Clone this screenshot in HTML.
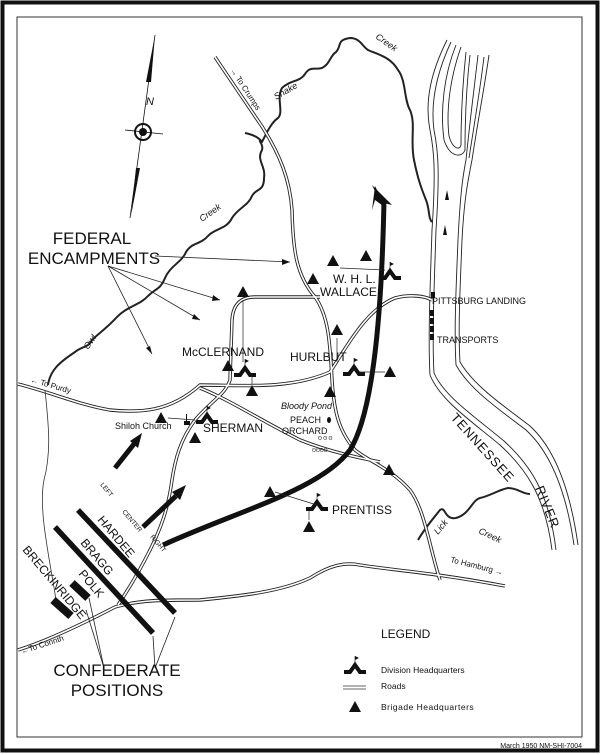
<!DOCTYPE html>
<html><head><meta charset="utf-8"><style>
html,body{margin:0;padding:0;background:#fff}
svg{display:block}
text{font-family:"Liberation Sans",sans-serif;fill:#111}
</style></head><body>
<svg width="600" height="755" viewBox="0 0 600 755" xmlns="http://www.w3.org/2000/svg">
<rect x="0" y="0" width="600" height="755" fill="#fff"/>
<rect x="2.5" y="2.5" width="595" height="748" fill="none" stroke="#111" stroke-width="4"/>
<rect x="17" y="17" width="565" height="720" fill="none" stroke="#333" stroke-width="1"/>
<text x="582" y="748" font-size="7" text-anchor="end">March 1950   NM-SHI-7004</text>

<!-- compass -->
<polygon points="155,35 151,82 146,82" fill="#111"/>
<line x1="155" y1="35" x2="130" y2="218" stroke="#111" stroke-width="0.8"/>
<polygon points="140,168 136,168 131,216" fill="#111"/>
<circle cx="143" cy="132" r="8" fill="none" stroke="#111" stroke-width="2"/>
<circle cx="143" cy="132" r="4" fill="#111"/>
<line x1="125" y1="130" x2="163" y2="134" stroke="#111" stroke-width="0.8"/>
<text x="146" y="105" font-size="11" font-style="italic">N</text>

<!-- creeks -->
<g fill="none" stroke="#222" stroke-width="2" stroke-linejoin="round">
<path d="M48,385 C50,370 60,362 75,352 C82,346 88,348 92,340 C100,332 105,330 118,316 C128,306 140,305 148,296 C156,288 160,290 165,278 C170,266 182,262 186,252 C192,242 200,245 208,236 C215,228 226,230 232,218 C238,208 248,206 252,196 C256,188 264,192 264,178 C266,166 256,160 262,150 C264,144 256,138 262,142 C258,136 250,134 245,133"/>
<path d="M262,142 C268,130 272,122 278,118 C284,112 276,98 282,88 C290,80 300,82 305,74 C310,66 315,70 322,68 C330,64 330,56 336,52 C342,46 336,40 350,38 C360,38 362,46 368,50 C376,54 390,56 398,70 C406,80 404,100 410,110 C416,124 410,140 414,160 C418,180 422,190 426,200 C430,210 428,218 432,222"/>
<path d="M418,540 C425,528 432,520 440,510 C446,506 444,520 456,518 C470,514 472,500 480,498 C490,496 498,490 508,488 C518,488 522,494 530,494"/>
</g>
<text x="88" y="350" font-size="9" font-style="italic" transform="rotate(-55 88 350)">Owl</text>
<text x="202" y="222" font-size="9" font-style="italic" transform="rotate(-35 202 222)">Creek</text>
<text x="276" y="100" font-size="9" font-style="italic" transform="rotate(-30 276 100)">Snake</text>
<text x="375" y="38" font-size="9" font-style="italic" transform="rotate(35 375 38)">Creek</text>
<text x="438" y="535" font-size="9" font-style="italic" transform="rotate(-50 438 535)">Lick</text>
<text x="478" y="533" font-size="9" font-style="italic" transform="rotate(25 478 533)">Creek</text>

<!-- river -->
<g fill="none" stroke="#222" stroke-width="0.9">
<path d="M447,40 C432,70 424,100 430,130 C434,150 436,170 432,230 C430,290 428,340 430,375 C440,400 470,420 500,445 C525,468 545,495 552,550"/>
<path d="M451,42 C438,70 430,100 434,130 C438,150 440,170 436,230 C434,290 432,340 434,373 C444,396 474,416 504,441 C529,464 549,491 556,550"/>
<path d="M456,45 C444,75 440,110 444,140 C450,158 462,158 465,150 C465,120 466,90 470,55"/>
<path d="M461,47 C450,78 446,110 449,136 C453,150 460,150 461,145 C461,120 462,90 466,52"/>
<path d="M478,55 C474,90 470,120 466,160 C462,180 460,200 458,240 C456,290 454,330 456,365 C470,390 500,410 526,430 C550,452 566,490 574,545"/>
<path d="M489,55 C484,90 478,120 472,160 C468,180 464,200 462,240 C460,290 458,330 460,362 C474,386 504,406 530,426 C554,448 570,488 578,545"/>
<path d="M484,57 C480,90 475,120 469,158"/>
</g>
<polygon points="447,190 445,200 449,200" fill="#111"/>
<polygon points="445,225 443,235 447,235" fill="#111"/>
<text x="450" y="418" font-size="13" transform="rotate(48 450 418)" letter-spacing="1">TENNESSEE</text>
<text x="535" y="488" font-size="13" transform="rotate(68 535 488)" letter-spacing="1">RIVER</text>

<!-- roads -->
<g fill="none" stroke="#222" stroke-width="3.4" stroke-linejoin="round">
<path id="r1" d="M215,57 L263,128 C280,155 290,180 292,210 C293,250 296,275 315,297 C328,315 330,340 332,380 C334,410 338,430 355,450 C370,462 390,468 410,490 C425,510 430,550 440,580"/>
<path id="r2" d="M320,297 L255,297 C240,297 233,305 232,320 L230,380 C225,395 212,400 195,420 C180,440 175,460 172,480 C168,510 160,530 150,550 C140,570 128,590 118,605"/>
<path id="r3" d="M18,384 C50,392 80,405 110,410 C140,413 170,412 200,385 C240,385 290,390 330,372 C345,350 365,310 395,298 C410,294 425,296 432,300"/>
<path id="r4" d="M200,388 C230,400 260,420 300,440 C330,452 360,458 380,462"/>
<path id="r5" d="M18,650 C50,640 90,620 115,607 C140,600 160,600 200,600 C240,596 280,592 310,578 C330,565 345,562 360,565 C390,570 430,572 505,586"/>
</g>
<g fill="none" stroke="#fff" stroke-width="1.6" stroke-linejoin="round">
<use href="#r1"/><use href="#r2"/><use href="#r3"/><use href="#r4"/><use href="#r5"/>
</g>
<path d="M45,390 C48,420 52,450 44,480 C38,510 50,560 56,600" fill="none" stroke="#333" stroke-width="0.8"/>
<text x="230" y="70" font-size="8" transform="rotate(57 230 70)">→ To Crumps</text>
<text x="30" y="382" font-size="8" transform="rotate(16 30 382)">← To       Purdy</text>
<text x="22" y="654" font-size="8" transform="rotate(-18 22 654)">←To Corinth</text>
<text x="450" y="562" font-size="8" transform="rotate(14 450 562)">To Hamburg →</text>

<!-- encampment arrows -->
<g stroke="#222" stroke-width="0.8" fill="none">
<line x1="155" y1="256" x2="290" y2="262"/>
<line x1="108" y1="266" x2="220" y2="300"/>
<line x1="108" y1="266" x2="200" y2="320"/>
<line x1="108" y1="266" x2="152" y2="354"/>
<line x1="86" y1="610" x2="104" y2="668"/><line x1="89" y1="598" x2="104" y2="668"/>
<line x1="153" y1="636" x2="155" y2="668"/><line x1="175" y1="617" x2="155" y2="668"/>
</g>
<g fill="#111">
<polygon points="290,262 282,259 282,265"/><polygon points="220,300 213,295 212,301"/>
<polygon points="200,320 194,314 192,319"/><polygon points="152,354 150,346 146,348"/>
</g>

<!-- big arrows -->
<path d="M163,545 C240,510 320,490 350,450 C375,410 382,300 384,200" fill="none" stroke="#111" stroke-width="5"/>
<polygon points="375,186 386,208 375,200 372,210" fill="#111"/>
<polygon points="372,185 392,205 380,202" fill="#111"/>
<line x1="115" y1="468" x2="134" y2="444" stroke="#111" stroke-width="5"/>
<polygon points="142,433 130,441 138,448" fill="#111"/>
<line x1="143" y1="527" x2="176" y2="496" stroke="#111" stroke-width="5"/>
<polygon points="186,485 172,492 180,500" fill="#111"/>

<!-- confederate bars -->
<g stroke="#111" stroke-width="5.5">
<line x1="78" y1="510" x2="175" y2="613"/>
<line x1="55" y1="527" x2="153" y2="633"/>
<line x1="72" y1="583" x2="88" y2="598" stroke-width="8"/>
<line x1="53" y1="600" x2="71" y2="616" stroke-width="8"/>
</g>
<g font-size="12">
<text x="97" y="520" transform="rotate(50 97 520)">HARDEE</text>
<text x="80" y="543" transform="rotate(50 80 543)">BRAGG</text>
<text x="78" y="574" transform="rotate(50 78 574)">POLK</text>
<text x="22" y="550" transform="rotate(50 22 550)">BRECKINRIDGE</text>
</g>
<g font-size="6.5">
<text x="100" y="485" transform="rotate(50 100 485)">LEFT</text>
<text x="122" y="512" transform="rotate(50 122 512)">CENTER</text>
<text x="150" y="537" transform="rotate(50 150 537)">RIGHT</text>
</g>
<text x="117" y="676" font-size="17" text-anchor="middle">CONFEDERATE</text>
<text x="117" y="696" font-size="17" text-anchor="middle">POSITIONS</text>

<text x="92" y="244" font-size="17" text-anchor="middle">FEDERAL</text>
<text x="94" y="264" font-size="17" text-anchor="middle">ENCAMPMENTS</text>

<!-- unit labels -->
<g font-size="12">
<text x="333" y="283">W. H. L.</text>
<text x="320" y="296">WALLACE</text>
<text x="182" y="356">McCLERNAND</text>
<text x="290" y="361">HURLBUT</text>
<text x="203" y="432">SHERMAN</text>
<text x="332" y="514">PRENTISS</text>
</g>
<text x="432" y="304" font-size="9">PITTSBURG  LANDING</text>
<text x="437" y="343" font-size="9">TRANSPORTS</text>
<text x="281" y="409" font-size="9" font-style="italic">Bloody Pond</text>
<text x="290" y="423" font-size="9">PEACH</text>
<text x="282" y="434" font-size="9">ORCHARD</text>
<text x="115" y="429" font-size="9">Shiloh Church</text>

<!-- HQ symbols -->
<defs>
<g id="div"><polyline points="-11,4 -5,4 0,-3 5,4 11,4" fill="none" stroke="#111" stroke-width="4" stroke-linejoin="miter"/><line x1="0" y1="-4" x2="0" y2="-12" stroke="#111" stroke-width="0.6"/><polygon points="0,-12 4,-10 0,-8" fill="#111"/></g>
<polygon id="tri" points="0,-6 6,5 -6,5" fill="#111"/>
</defs>
<use href="#div" x="390" y="274"/><use href="#div" x="245" y="371"/><use href="#div" x="354" y="370"/>
<use href="#div" x="207" y="418"/><use href="#div" x="317" y="505"/>
<use href="#tri" x="333" y="261"/><use href="#tri" x="366" y="256"/><use href="#tri" x="313" y="279"/>
<use href="#tri" x="243" y="292"/><use href="#tri" x="337" y="330"/><use href="#tri" x="228" y="366"/>
<use href="#tri" x="252" y="391"/><use href="#tri" x="330" y="392"/><use href="#tri" x="390" y="372"/>
<use href="#tri" x="161" y="418"/><use href="#tri" x="195" y="438"/><use href="#tri" x="389" y="470"/>
<use href="#tri" x="270" y="492"/><use href="#tri" x="309" y="527"/>
<g stroke="#222" stroke-width="0.7">
<line x1="243" y1="300" x2="243" y2="362"/><line x1="337" y1="338" x2="337" y2="362"/>
<line x1="360" y1="372" x2="385" y2="372"/><line x1="340" y1="268" x2="385" y2="270"/>
<line x1="317" y1="505" x2="275" y2="492"/><line x1="309" y1="510" x2="309" y2="520"/>
<line x1="195" y1="420" x2="168" y2="418"/><line x1="252" y1="375" x2="252" y2="384"/>
</g>
<g fill="#111">
<rect x="431" y="292" width="4" height="6"/><rect x="430" y="310" width="4" height="6"/>
<rect x="430" y="318" width="4" height="6"/><rect x="430" y="326" width="4" height="6"/><rect x="430" y="334" width="4" height="6"/>
<rect x="184" y="421" width="6" height="4"/><rect x="186" y="414" width="1" height="7"/>
<ellipse cx="329" cy="420" rx="2" ry="3"/>
</g>
<g font-size="5">
<text x="318" y="440">ʘ ʘ ʘ</text><text x="312" y="452">ʘʘʘʘ</text>
</g>

<!-- legend -->
<text x="381" y="638" font-size="12">LEGEND</text>
<use href="#div" x="355" y="668"/>
<text x="381" y="673" font-size="8.5">Division Headquarters</text>
<line x1="343" y1="686" x2="366" y2="686" stroke="#333" stroke-width="0.7"/>
<line x1="343" y1="689" x2="366" y2="689" stroke="#333" stroke-width="0.7"/>
<text x="381" y="689" font-size="8.5">Roads</text>
<use href="#tri" x="355" y="707"/>
<text x="381" y="710" font-size="8.5" letter-spacing="0.5">Brigade  Headquarters</text>
</svg>
</body></html>
